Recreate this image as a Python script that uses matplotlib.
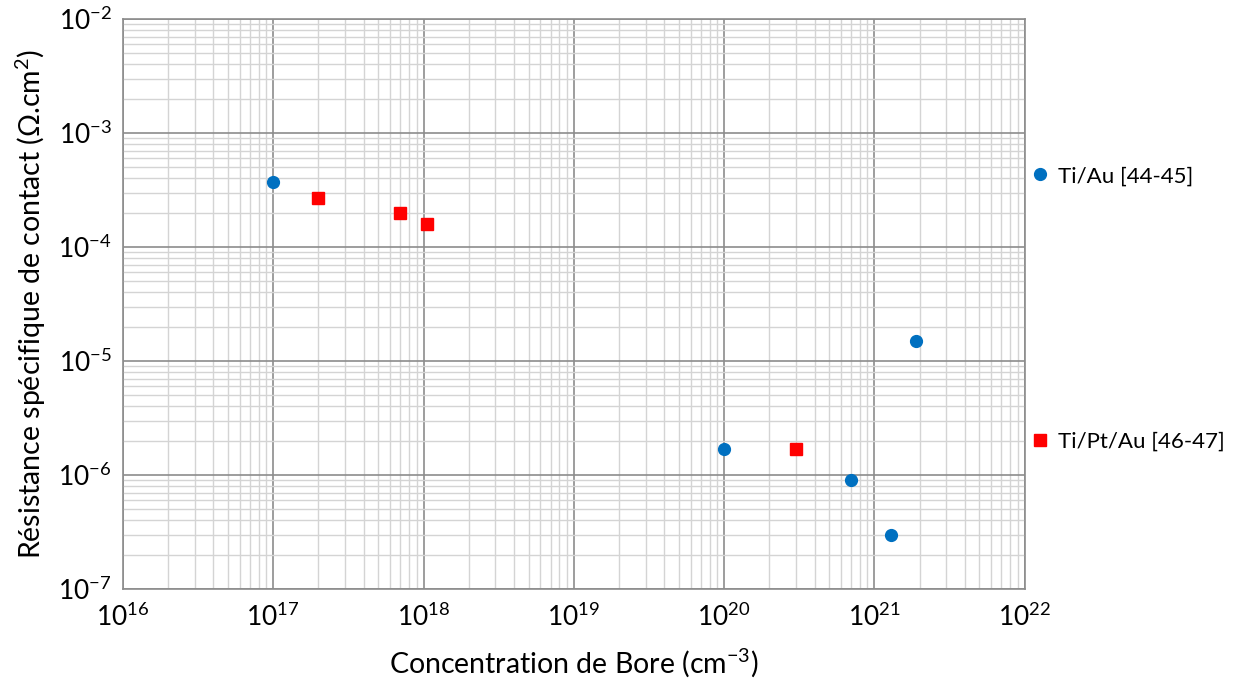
import numpy as np
import matplotlib
matplotlib.use('Agg')
from matplotlib import pyplot as plt
from matplotlib.ticker import LogLocator, FixedLocator, FuncFormatter, NullFormatter

# data
tiau_conc = [1.0e17, 1.0e20, 7.0e20, 1.3e21, 1.9e21]
tiau_rc = [3.7e-4, 1.7e-6, 9.0e-7, 3.0e-7, 1.5e-5]
tiptau_conc = [2.0e17, 7.0e17, 1.05e18, 3.0e20]
tiptau_rc = [2.7e-4, 2.0e-4, 1.6e-4, 1.7e-6]
x_decades = [16, 17, 18, 19, 20, 21, 22]
y_decades = [-7, -6, -5, -4, -3, -2]

plt.rcParams['font.family'] = ['Lato', 'DejaVu Sans']
plt.rcParams['mathtext.fontset'] = 'custom'
plt.rcParams['mathtext.rm'] = 'Lato'
plt.rcParams['mathtext.it'] = 'Lato'
plt.rcParams['mathtext.bf'] = 'Lato'

fig = plt.figure(figsize=(12.36, 6.81), dpi=100)
ax = fig.add_axes([0.0995, 0.135, 0.7295, 0.837])

ax.plot(tiau_conc, tiau_rc, 'o', color='#0070C0', ms=8.5, mec='#0070C0',
        label='Ti/Au [44-45]', zorder=5)
ax.plot(tiptau_conc, tiptau_rc, 's', color='#FF0000', ms=8, mec='#FF0000',
        label='Ti/Pt/Au [46-47]', zorder=5)

ax.set_xscale('log')
ax.set_yscale('log')
ax.set_xlim(1e16, 1e22)
ax.set_ylim(1e-7, 1e-2)

fmt = FuncFormatter(lambda v, p: r'$10^{%d}$' % round(np.log10(v)))
ax.xaxis.set_major_locator(FixedLocator([10.0 ** d for d in x_decades]))
ax.yaxis.set_major_locator(FixedLocator([10.0 ** d for d in y_decades]))
for axis in (ax.xaxis, ax.yaxis):
    axis.set_minor_locator(LogLocator(base=10, subs=np.arange(2, 10), numticks=20))
    axis.set_minor_formatter(NullFormatter())
    axis.set_major_formatter(fmt)

ax.grid(which='major', color='#8c8c8c', lw=1.2)
ax.grid(which='minor', color='#d4d4d4', lw=1.0)
ax.set_axisbelow(True)
ax.tick_params(which='both', length=0, labelsize=19, colors='black')
ax.tick_params(axis='x', pad=10)
ax.tick_params(axis='y', pad=8)
for s in ax.spines.values():
    s.set_color('#8c8c8c')
    s.set_linewidth(1.2)

ax.set_xlabel('Concentration de Bore (cm$^{-3}$)', fontsize=20.5, labelpad=11)
ax.set_ylabel('Résistance spécifique de contact (Ω.cm$^{2}$)', fontsize=20.5, labelpad=7)

fig.legend(loc='upper left', bbox_to_anchor=(0.829, 0.769), frameon=False,
           fontsize=16, labelspacing=11.05, handlelength=0.6, handletextpad=0.5,
           borderaxespad=0)

fig.savefig('out.png', dpi=100)
